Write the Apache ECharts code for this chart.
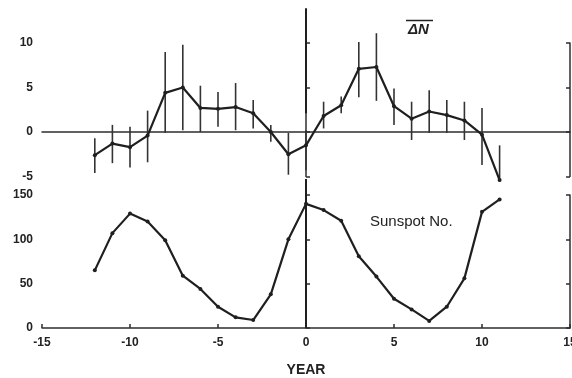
<!DOCTYPE html>
<html>
<head>
<meta charset="utf-8">
<script src="https://cdn.jsdelivr.net/npm/echarts@6/dist/echarts.min.js"></script>
<style>html,body{margin:0;padding:0;background:#fff;}#c{width:572px;height:378px;}</style>
</head>
<body>
<div id="c"></div>
<script>
// Years
var years = [-12,-11,-10,-9,-8,-7,-6,-5,-4,-3,-2,-1,0,1,2,3,4,5,6,7,8,9,10,11];
// Top panel: mean delta N
var deltaN   = [-2.6,-1.3,-1.7,-0.4,4.4,5.0,2.7,2.6,2.8,2.1,0.0,-2.5,-1.5,1.8,3.0,7.1,7.3,2.9,1.5,2.3,1.9,1.3,-0.3,-5.4];
var errHigh  = [-0.7,0.8,0.6,2.4,9.0,9.8,5.2,4.5,5.5,3.6,0.8,-0.1,0.2,3.4,4.0,10.1,11.1,4.9,3.4,4.7,3.6,3.4,2.7,-1.5];
var errLow   = [-4.6,-3.5,-4.0,-3.4,-0.1,0.2,0.0,0.6,0.2,0.4,-1.1,-4.8,-4.3,0.4,2.1,3.9,3.5,0.8,-0.9,-0.1,-0.1,-0.9,-3.7,-5.6];
// Bottom panel: sunspot number
var sunspot  = [65,107,129,120,99,59,44,24,12,9,38,100,140,133,121,81,58,33,21,8,24,56,131,145];
// Vertical reference line at year 0 (segments)
var zeroLineTop = [[0,2.1],[0,13.9]];
var zeroLineBottom = [[0,0],[0,168]];
// Axis ticks
var xTicks = [-15,-10,-5,0,5,10,15];
var topTicks = [-5,0,5,10];
var bottomTicks = [0,50,100,150];

var ink = '#1f1f1f';
var axisInk = '#2e2e2e';
var labelFont = {fontFamily:'Liberation Sans, Arial, sans-serif', fontWeight:'bold', fontSize:12, color:'#222'};

var chart = echarts.init(document.getElementById('c'), null, {renderer:'canvas'});

function pairs(xs, ys){ return xs.map(function(x,i){return [x, ys[i]];}); }
var errData = years.map(function(x,i){return [x, errLow[i], errHigh[i]];});

var axLine = {show:true, lineStyle:{color:axisInk, width:1.5}};
var option = {
  backgroundColor:'#ffffff',
  animation:false,
  grid:[
    {left:42, right:2, top:43, height:133.5, containLabel:false, outerBoundsMode:'none'},
    {left:42, right:2, top:195, height:133, containLabel:false, outerBoundsMode:'none'}
  ],
  xAxis:[
    {gridIndex:0, type:'value', min:xTicks[0], max:xTicks[xTicks.length-1], interval:5,
     axisLine:{show:true, onZero:true, lineStyle:{color:axisInk, width:1.5}},
     axisTick:{show:false}, axisLabel:{show:false}, splitLine:{show:false}},
    {gridIndex:1, type:'value', min:xTicks[0], max:xTicks[xTicks.length-1], interval:5,
     axisLine:axLine, axisTick:{show:true, inside:true, length:4, lineStyle:{color:axisInk, width:1.5}},
     axisLabel:Object.assign({margin:9}, labelFont), splitLine:{show:false},
     name:'YEAR', nameLocation:'middle', nameGap:35,
     nameTextStyle:{fontFamily:'Liberation Sans, Arial, sans-serif', fontWeight:'bold', fontSize:14, color:'#222'}}
  ],
  yAxis:[
    {gridIndex:0, type:'value', min:topTicks[0], max:topTicks[topTicks.length-1], interval:5, position:'left',
     axisLine:axLine, axisTick:{show:true, inside:true, length:4, lineStyle:{color:axisInk, width:1.5}},
     axisLabel:Object.assign({margin:9}, labelFont), splitLine:{show:false}},
    {gridIndex:0, type:'value', min:topTicks[0], max:topTicks[topTicks.length-1], interval:5, position:'right',
     axisLine:axLine, axisTick:{show:true, inside:true, length:4, lineStyle:{color:axisInk, width:1.5}},
     axisLabel:{show:false}, splitLine:{show:false}},
    {gridIndex:1, type:'value', min:bottomTicks[0], max:bottomTicks[bottomTicks.length-1], interval:50, position:'left',
     axisLine:axLine, axisTick:{show:true, inside:true, length:4, lineStyle:{color:axisInk, width:1.5}},
     axisLabel:Object.assign({margin:9}, labelFont), splitLine:{show:false}},
    {gridIndex:1, type:'value', min:bottomTicks[0], max:bottomTicks[bottomTicks.length-1], interval:50, position:'right',
     axisLine:axLine, axisTick:{show:true, inside:true, length:4, lineStyle:{color:axisInk, width:1.5}},
     axisLabel:{show:false}, splitLine:{show:false}}
  ],
  series:[
    {type:'custom', xAxisIndex:0, yAxisIndex:0, clip:false, data:errData,
     renderItem:function(params, api){
       var p1 = api.coord([api.value(0), api.value(1)]);
       var p2 = api.coord([api.value(0), api.value(2)]);
       return {type:'line', shape:{x1:p1[0], y1:p1[1], x2:p2[0], y2:p2[1]},
               style:{stroke:'#333', lineWidth:1.6}};
     }},
    {type:'line', xAxisIndex:0, yAxisIndex:0, clip:false, data:pairs(years, deltaN),
     symbol:'circle', symbolSize:4, itemStyle:{color:ink},
     lineStyle:{color:ink, width:2.2}},
    {type:'line', xAxisIndex:0, yAxisIndex:0, clip:false, data:zeroLineTop,
     symbol:'none', lineStyle:{color:ink, width:2}},
    {type:'line', xAxisIndex:1, yAxisIndex:2, clip:false, data:zeroLineBottom,
     symbol:'none', lineStyle:{color:ink, width:2}},
    {type:'line', xAxisIndex:1, yAxisIndex:2, clip:false, data:pairs(years, sunspot),
     symbol:'circle', symbolSize:4, itemStyle:{color:ink},
     lineStyle:{color:ink, width:2.2}}
  ],
  graphic:[
    {type:'text', left:408, top:22,
     style:{text:'ΔN', font:'italic bold 15px "Liberation Sans", Arial, sans-serif', fill:'#222'}},
    {type:'line', shape:{x1:406, y1:20.5, x2:433, y2:20.5}, style:{stroke:'#222', lineWidth:1.5}},
    {type:'text', left:370, top:214,
     style:{text:'Sunspot No.', font:'15px "Liberation Sans", Arial, sans-serif', fill:'#222'}}
  ]
};
chart.setOption(option);
</script>
</body>
</html>
